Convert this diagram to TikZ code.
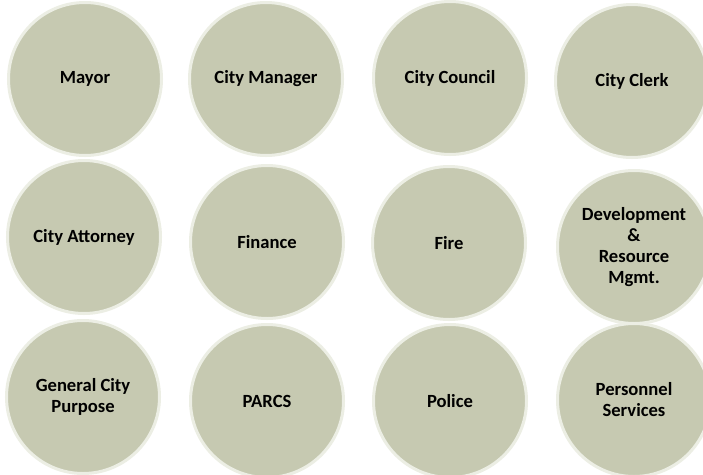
\documentclass[tikz,border=0pt]{standalone}
\usepackage{fontspec}
\setmainfont{Carlito}
\definecolor{discfill}{RGB}{198,201,177}
\definecolor{discedge}{RGB}{236,238,228}
\begin{document}
\begin{tikzpicture}[x=1pt,y=-1pt,
  disc/.style={circle, fill=discfill, draw=discedge, line width=3pt,
    minimum size=153pt, inner sep=0pt, align=center,
    font=\bfseries\fontsize{18.6}{21}\selectfont, text=black}]
\useasboundingbox[fill=white] (0,0) rectangle (703,474);
\node[disc] (mayor)    at (85,79)  {Mayor};
\node[disc] (manager)  at (266,79) {City Manager};
\node[disc] (council)  at (450,78) {City Council};
\node[disc] (clerk)    at (632,81) {City Clerk};
\node[disc] (attorney) at (84,237) {City Attorney};
\node[disc] (finance)  at (267,242) {Finance};
\node[disc] (fire)     at (449,243) {Fire};
\node[disc] (devel)    at (634,247) {Development\\\&\\Resource\\Mgmt.};
\node[disc] (general)  at (83,397) {General City\\Purpose};
\node[disc] (parcs)    at (267,401) {PARCS};
\node[disc] (police)   at (450,401) {Police};
\node[disc] (personnel) at (634,400) {Personnel\\Services};
\end{tikzpicture}
\end{document}
